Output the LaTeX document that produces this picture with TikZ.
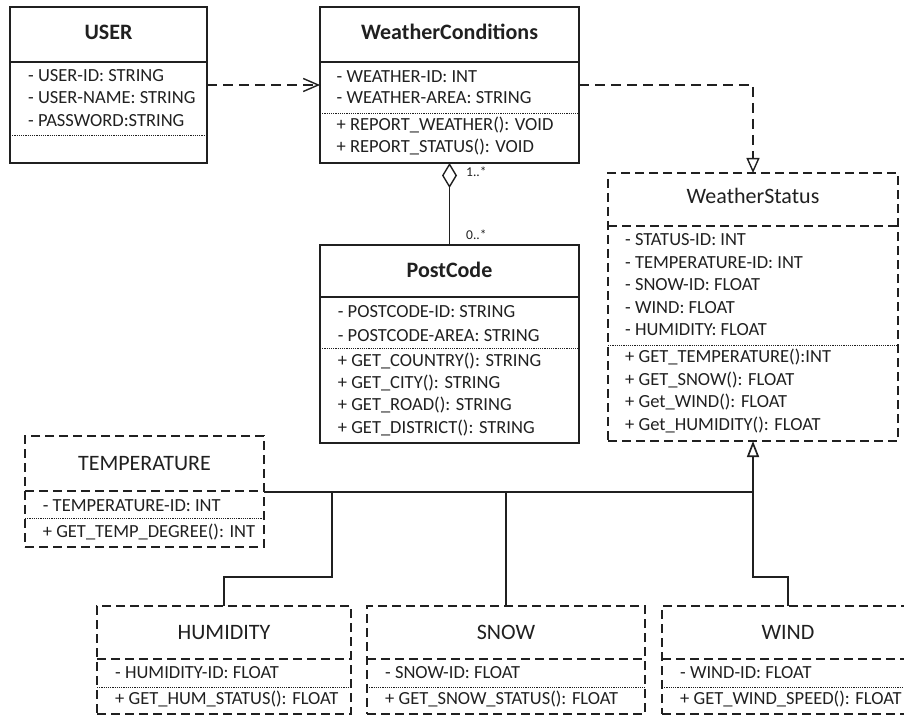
\documentclass[tikz,border=0pt]{standalone}
\usepackage{fontspec}
\setmainfont{Carlito}
\usetikzlibrary{arrows.meta,fit}

\definecolor{ink}{HTML}{202020}

\tikzset{
  solid box/.style={draw=ink, line width=1.3pt, inner sep=0pt, outer sep=0pt},
  dashed box/.style={solid box, dash pattern=on 9pt off 5pt},
  solid box line/.style={draw=ink, line width=1.3pt},
  dashed box line/.style={draw=ink, line width=1.3pt, dash pattern=on 9pt off 5pt},
  member sep/.style={draw=ink, line width=0.9pt, dash pattern=on 1.1pt off 1.1pt},
  member/.style={anchor=base west, inner sep=0pt, text=ink, font=\fontsize{18.5}{22}\selectfont},
  class title/.style={anchor=base, inner sep=0pt, text=ink, font=\fontsize{22}{26}\selectfont},
  bold title/.style={class title, font=\fontsize{22}{26}\selectfont\bfseries},
  mult/.style={anchor=base west, inner sep=0pt, text=ink, font=\fontsize{13.5}{16}\selectfont},
  link/.style={draw=ink, line width=1.4pt},
  dep/.style={link, dash pattern=on 10pt off 6pt},
  tree/.style={draw=ink, line width=1.7pt},
}

% class frame: name, x1, y1, x2, y2, header rule y, member rule y, kind (solid/dashed)
\newcommand\umlclass[8]{%
  \path (#2,#3) coordinate (#1-nw) (#4,#5) coordinate (#1-se);
  \node[#8 box, fit=(#1-nw)(#1-se)] (#1) {};
  \draw[#8 box line] (#1.west |- 0,#6) -- (#1.east |- 0,#6);
  \draw[member sep] (#1.west |- 0,#7) -- (#1.east |- 0,#7);
}
% member lines: prefix, left x, list of baseline/text
\newcommand\umlmembers[3]{%
  \foreach \yy/\txt [count=\k] in {#3}
    \node[member] (#1-\k) at (#2,\yy) {\txt};
}

\begin{document}
\begin{tikzpicture}[x=1pt,y=-1pt]
\useasboundingbox (0,0) rectangle (904,719);
\clip (0,0) rectangle (904,719);

% USER
\umlclass{user}{10}{7}{207}{163}{62}{135}{solid}
\node[bold title] (user-title) at (user.center |- 0,40) {USER};
\umlmembers{user}{28}{81.7/{- USER-ID: STRING},104/{- USER-NAME: STRING},126.3/{- PASSWORD:STRING}}

% WeatherConditions
\umlclass{wc}{320}{7}{579}{163}{62}{113}{solid}
\node[bold title] (wc-title) at (wc.center |- 0,40) {WeatherConditions};
\umlmembers{wc}{336.5}{82.3/{- WEATHER-ID: INT},103.3/{- WEATHER-AREA: STRING},130.7/{+ REPORT\_WEATHER(): VOID},152.7/{+ REPORT\_STATUS(): VOID}}

% PostCode
\umlclass{pc}{320}{245}{579}{443}{297}{348}{solid}
\node[bold title] (pc-title) at (pc.center |- 0,277) {PostCode};
\umlmembers{pc}{337.7}{317.3/{- POSTCODE-ID: STRING},341/{- POSTCODE-AREA: STRING},366/{+ GET\_COUNTRY(): STRING},388.3/{+ GET\_CITY(): STRING},410.7/{+ GET\_ROAD(): STRING},433.3/{+ GET\_DISTRICT(): STRING}}

% WeatherStatus
\umlclass{ws}{608}{173}{898}{441}{226}{345}{dashed}
\node[class title] (ws-title) at (ws.center |- 0,204) {WeatherStatus};
\umlmembers{ws}{625}{245.7/{- STATUS-ID: INT},268.3/{- TEMPERATURE-ID: INT},290.7/{- SNOW-ID: FLOAT},313.3/{- WIND: FLOAT},335.7/{- HUMIDITY: FLOAT},362.3/{+ GET\_TEMPERATURE():INT},385/{+ GET\_SNOW(): FLOAT},407.3/{+ Get\_WIND(): FLOAT},430/{+ Get\_HUMIDITY(): FLOAT}}

% TEMPERATURE
\umlclass{temp}{25}{436}{264}{547}{491}{518}{dashed}
\node[class title] (temp-title) at (temp.center |- 0,470) {TEMPERATURE};
\umlmembers{temp}{42.7}{511/{- TEMPERATURE-ID: INT},537.3/{+ GET\_TEMP\_DEGREE(): INT}}

% HUMIDITY
\umlclass{hum}{97}{606}{351}{714}{659}{687}{dashed}
\node[class title] (hum-title) at (hum.center |- 0,639) {HUMIDITY};
\umlmembers{hum}{115}{678.3/{- HUMIDITY-ID: FLOAT},704/{+ GET\_HUM\_STATUS(): FLOAT}}

% SNOW
\umlclass{snow}{367}{606}{645}{714}{659}{687}{dashed}
\node[class title] (snow-title) at (snow.center |- 0,639) {SNOW};
\umlmembers{snow}{385}{678.3/{- SNOW-ID: FLOAT},704/{+ GET\_SNOW\_STATUS(): FLOAT}}

% WIND
\umlclass{wind}{662}{606}{914}{714}{659}{687}{dashed}
\node[class title] (wind-title) at (wind.center |- 0,639) {WIND};
\umlmembers{wind}{680}{678.3/{- WIND-ID: FLOAT},704/{+ GET\_WIND\_SPEED(): FLOAT}}

% dependency and realization
\draw[dep, -{Straight Barb[length=15pt,width=13pt]}] (user.east) -- (wc.west);
\draw[dep, -{Triangle[open,length=15pt,width=13pt,fill=white]}] (wc.east) -| (ws.north);

% aggregation with multiplicities
\draw[link, {Diamond[open,length=25pt,width=15pt,fill=white]}-] (wc.south) -- (pc.north);
\node[mult] (mult-wc) at (466,176.5) {1..*};
\node[mult] (mult-pc) at (466,239.5) {0..*};

% generalization tree
\coordinate (bus) at (ws.south |- 0,492);
\coordinate (hum-bus) at (332,492);
\draw[tree] (temp.east |- bus) -- (bus);
\draw[tree, -{Triangle[open,length=16pt,width=12pt,fill=white]}] (wind.north) -- (wind.north |- 0,577) -| (ws.south);
\draw[tree] (hum.north) -- (hum.north |- 0,577) -| (hum-bus);
\draw[tree] (snow.north) -- (snow.north |- bus);
\end{tikzpicture}
\end{document}
